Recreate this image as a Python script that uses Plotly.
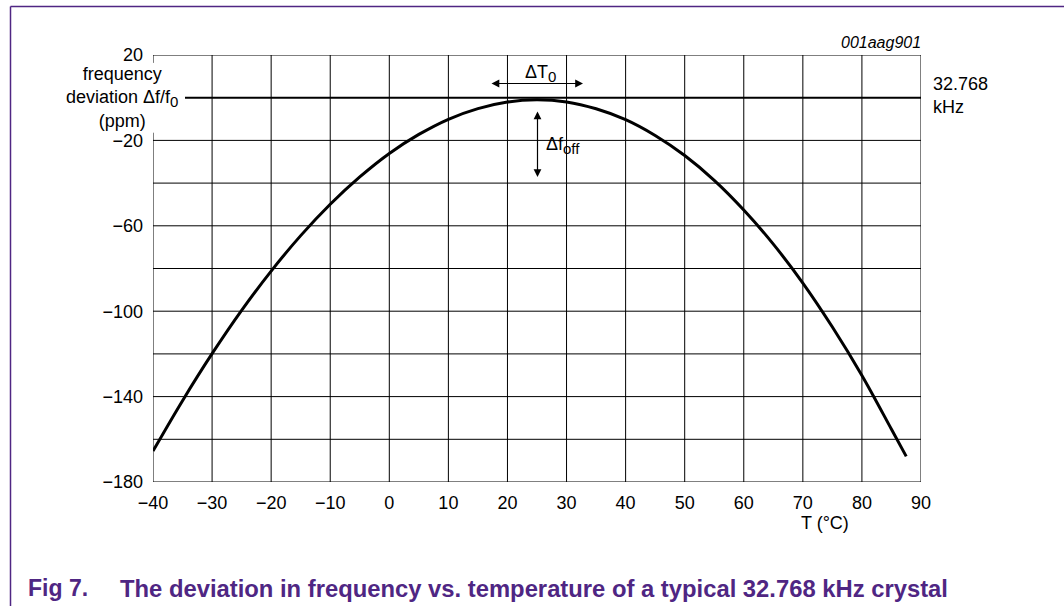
import plotly.graph_objects as go

# ---- data ----
temp_c = [-40, -35, -30, -25, -20, -15, -10, -5, 0, 5, 10, 15, 20, 25, 30, 35,
          40, 45, 50, 55, 60, 65, 70, 75, 80, 85, 87.5]
dev_ppm = [-165.5, -141.9, -119.9, -99.6, -81.2, -64.6, -49.9, -37.1, -26.1, -17.2, -10.1,
           -5.1, -2.0, -1.0, -2.0, -5.2, -10.3, -17.7, -27.1, -38.7, -52.6, -68.6, -86.8,
           -107.4, -130.1, -155.3, -168.0]

x_ticks = [-40, -30, -20, -10, 0, 10, 20, 30, 40, 50, 60, 70, 80, 90]
x_ticktext = ["\u221240", "\u221230", "\u221220", "\u221210", "0", "10", "20", "30",
              "40", "50", "60", "70", "80", "90"]
y_ticks = [20, -20, -60, -100, -140, -180]
y_ticktext = ["20", "\u221220", "\u221260", "\u2212100", "\u2212140", "\u2212180"]

grid_x = [-30, -20, -10, 0, 10, 20, 30, 40, 50, 60, 70, 80, 90]
grid_y = [20, -20, -40, -60, -80, -100, -120, -140, -160, -180]

X_MIN, X_MAX = -40, 90
Y_MIN, Y_MAX = -180, 20

W, H = 1064, 606
ML, MR, MT, MB = 153, 143, 55, 124
PW, PH = W - ML - MR, H - MT - MB

FONT = "Liberation Sans, Arial, Helvetica, sans-serif"
PURPLE = "#4f2683"


def px_to_paper_x(px):
    return (px - ML) / PW


def px_to_paper_y(py):
    return (H - MB - py) / PH


def sub(s):
    return "<sub><span style='font-size:15px'>" + s + "</span></sub>"


fig = go.Figure()
fig.add_trace(go.Scatter(
    x=temp_c, y=dev_ppm, mode="lines",
    line=dict(color="black", width=3, shape="spline", smoothing=1.0),
    hoverinfo="skip", showlegend=False,
))

shapes = []
for gx in grid_x:
    shapes.append(dict(type="line", xref="x", yref="y", x0=gx, x1=gx, y0=Y_MIN, y1=Y_MAX,
                       line=dict(color="black", width=1), layer="below"))
for gy in grid_y:
    shapes.append(dict(type="line", xref="x", yref="y", x0=X_MIN, x1=X_MAX, y0=gy, y1=gy,
                       line=dict(color="black", width=1), layer="below"))
# left axis, broken around the y title
shapes.append(dict(type="line", xref="x", yref="y", x0=X_MIN, x1=X_MIN, y0=Y_MAX, y1=16.3,
                   line=dict(color="black", width=1), layer="below"))
shapes.append(dict(type="line", xref="x", yref="y", x0=X_MIN, x1=X_MIN, y0=-16.4, y1=Y_MIN,
                   line=dict(color="black", width=1), layer="below"))
# nominal (0 ppm) line
shapes.append(dict(type="line", xref="paper", yref="y", x0=px_to_paper_x(185), x1=1, y0=0, y1=0,
                   line=dict(color="black", width=2), layer="below"))
# white gap behind the delta f_off label
shapes.append(dict(type="rect", xref="paper", yref="y",
                   x0=px_to_paper_x(543), x1=px_to_paper_x(581), y0=-19.2, y1=-20.8,
                   line=dict(width=0), fillcolor="white", layer="below"))
# purple page frame
shapes.append(dict(type="line", xref="paper", yref="paper",
                   x0=px_to_paper_x(10.5), x1=px_to_paper_x(10.5),
                   y0=px_to_paper_y(6.5), y1=px_to_paper_y(610),
                   line=dict(color=PURPLE, width=1.5)))
shapes.append(dict(type="line", xref="paper", yref="paper",
                   x0=px_to_paper_x(10.5), x1=px_to_paper_x(1070),
                   y0=px_to_paper_y(6.5), y1=px_to_paper_y(6.5),
                   line=dict(color=PURPLE, width=1.5)))

annotations = [
    dict(text="frequency<br>deviation \u0394f/f" + sub("0") + "<br>(ppm)", xref="paper", yref="y",
         x=px_to_paper_x(122), y=0, xanchor="center", yanchor="middle", showarrow=False,
         align="center", font=dict(family=FONT, size=18, color="black")),
    dict(text="32.768<br>kHz", xref="paper", yref="paper",
         x=px_to_paper_x(931), y=px_to_paper_y(95), xanchor="left", yanchor="middle",
         showarrow=False, align="left", font=dict(family=FONT, size=18, color="black")),
    dict(text="<i>001aag901</i>", xref="paper", yref="paper",
         x=px_to_paper_x(923), y=px_to_paper_y(43), xanchor="right", yanchor="middle",
         showarrow=False, font=dict(family=FONT, size=16, color="black")),
    dict(text="T (\u00b0C)", xref="paper", yref="paper",
         x=px_to_paper_x(825), y=px_to_paper_y(523), xanchor="center", yanchor="middle",
         showarrow=False, font=dict(family=FONT, size=18, color="black")),
    dict(text="\u0394T" + sub("0"), xref="paper", yref="paper",
         x=px_to_paper_x(540), y=px_to_paper_y(73), xanchor="center", yanchor="middle",
         showarrow=False, font=dict(family=FONT, size=18, color="black")),
    dict(text="\u0394f" + sub("off"), xref="paper", yref="paper",
         x=px_to_paper_x(544), y=px_to_paper_y(145), xanchor="left", yanchor="middle",
         showarrow=False, font=dict(family=FONT, size=18, color="black")),
    dict(text="", xref="paper", yref="paper", axref="pixel", ayref="pixel",
         x=px_to_paper_x(583), y=px_to_paper_y(83.5), ax=-93, ay=0,
         showarrow=True, arrowhead=2, startarrowhead=2, arrowside="end+start",
         arrowsize=1.3, startarrowsize=1.3, arrowwidth=1.2, arrowcolor="black"),
    dict(text="", xref="paper", yref="paper", axref="pixel", ayref="pixel",
         x=px_to_paper_x(537.5), y=px_to_paper_y(177), ax=0, ay=-67,
         showarrow=True, arrowhead=2, startarrowhead=2, arrowside="end+start",
         arrowsize=1.3, startarrowsize=1.3, arrowwidth=1.2, arrowcolor="black"),
    dict(text="<b>Fig 7.</b>", xref="paper", yref="paper",
         x=px_to_paper_x(26), y=px_to_paper_y(588), xanchor="left", yanchor="middle",
         showarrow=False, font=dict(family=FONT, size=23, color=PURPLE)),
    dict(text="<b>The deviation in frequency vs. temperature of a typical 32.768 kHz crystal</b>",
         xref="paper", yref="paper",
         x=px_to_paper_x(118), y=px_to_paper_y(588), xanchor="left", yanchor="middle",
         showarrow=False, font=dict(family=FONT, size=23.8, color=PURPLE)),
]

fig.update_layout(
    width=W, height=H,
    margin=dict(l=ML, r=MR, t=MT, b=MB, pad=0),
    paper_bgcolor="white", plot_bgcolor="white",
    showlegend=False,
    shapes=shapes,
    annotations=annotations,
    xaxis=dict(range=[X_MIN, X_MAX], tickvals=x_ticks, ticktext=x_ticktext,
               showgrid=False, zeroline=False, showline=False, ticks="",
               ticklabelstandoff=8,
               tickfont=dict(family=FONT, size=18, color="black"), fixedrange=True),
    yaxis=dict(range=[Y_MIN, Y_MAX], tickvals=y_ticks, ticktext=y_ticktext,
               showgrid=False, zeroline=False, showline=False, ticks="",
               ticklabelstandoff=9,
               tickfont=dict(family=FONT, size=18, color="black"), fixedrange=True),
)

fig.write_html("out.html", config={"displayModeBar": False},
               post_script="document.body.style.margin='0';document.body.style.overflow='hidden';")
